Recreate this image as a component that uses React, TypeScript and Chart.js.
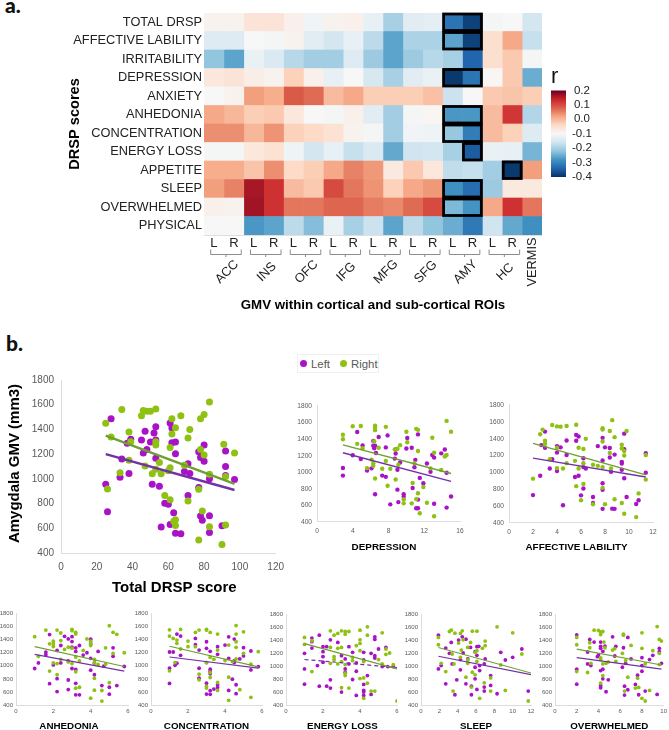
import React, { useEffect, useRef } from "react";
import { Chart, registerables } from "chart.js";

Chart.register(...registerables);
Chart.defaults.font.family = '"Liberation Sans", Arial, sans-serif';

// ---------- heat map data ----------
const rowLabels = ["TOTAL DRSP","AFFECTIVE LABILITY","IRRITABILITY","DEPRESSION","ANXIETY","ANHEDONIA","CONCENTRATION","ENERGY LOSS","APPETITE","SLEEP","OVERWHELMED","PHYSICAL"];
const regionGroups = ["ACC","INS","OFC","IFG","MFG","SFG","AMY","HC"];
const colLabels = ["L","R","L","R","L","R","L","R","L","R","L","R","L","R","L","R",""];
const rTotal = [-0.09,-0.09,-0.06,-0.06,-0.085,-0.11,-0.09,-0.085,-0.125,-0.2,-0.135,-0.13,-0.32,-0.38,-0.105,-0.1,-0.155];
const rAffective = [-0.14,-0.14,-0.1,-0.105,-0.09,-0.135,-0.155,-0.125,-0.18,-0.26,-0.195,-0.195,-0.26,-0.38,-0.05,0.015,-0.17];
const rIrritability = [-0.22,-0.26,-0.12,-0.145,-0.185,-0.205,-0.205,-0.14,-0.21,-0.26,-0.21,-0.185,-0.2,-0.34,-0.05,-0.02,-0.105];
const rDepression = [-0.065,-0.06,-0.08,-0.09,-0.03,-0.085,-0.125,-0.1,-0.15,-0.2,-0.135,-0.12,-0.39,-0.32,-0.095,-0.02,-0.25];
const rAnxiety = [-0.1,-0.09,0.025,0.01,0.085,0.07,-0.005,0.015,-0.025,-0.025,-0.025,-0.01,-0.165,-0.1,-0.02,-0.015,-0.025];
const rAnhedonia = [0.015,0,-0.025,-0.02,-0.065,-0.1,-0.105,-0.085,-0.135,-0.205,-0.105,-0.095,-0.275,-0.275,-0.005,0.12,-0.19];
const rConcentration = [0.04,0.04,0,0.035,-0.03,-0.04,-0.055,-0.09,-0.105,-0.205,-0.11,-0.115,-0.215,-0.31,-0.005,-0.03,-0.14];
const rEnergy = [-0.105,-0.105,-0.065,-0.055,-0.115,-0.155,-0.125,-0.17,-0.145,-0.255,-0.16,-0.155,-0.2,-0.35,-0.12,-0.125,-0.24];
const rAppetite = [0.01,0.01,-0.015,0.04,-0.04,-0.025,0.015,0.05,0.03,-0.07,-0.02,-0.065,-0.175,-0.17,-0.205,-0.39,0.025];
const rSleep = [0.025,0.05,0.16,0.125,-0.005,-0.02,0.1,0.06,0.035,-0.03,0.015,0.03,-0.285,-0.33,-0.21,-0.07,-0.07];
const rOverwhelmed = [-0.085,-0.09,0.165,0.125,0.06,0.06,0.075,0.075,0.055,0.045,0.07,0.1,-0.235,-0.28,0.015,0.125,0.06];
const rPhysical = [-0.1,-0.1,-0.275,-0.26,-0.18,-0.23,-0.12,-0.2,-0.165,-0.26,-0.18,-0.22,-0.25,-0.315,-0.16,-0.255,-0.285];
const heatRows = [rTotal,rAffective,rIrritability,rDepression,rAnxiety,rAnhedonia,rConcentration,rEnergy,rAppetite,rSleep,rOverwhelmed,rPhysical];
const significantBoxes = [[0,12,13],[1,12,13],[3,12,13],[5,12,13],[6,12,13],[7,13,13],[8,15,15],[9,12,13],[10,12,13]];
const colorbarTicks = [0.2,0.1,0,-0.1,-0.2,-0.3,-0.4];
const rdbuStops = ["#053061","#2166ac","#4393c3","#92c5de","#d1e5f0","#f7f7f7","#fddbc7","#f4a582","#dc5f4b","#c9222a","#67001f"];

// ---------- scatter data: [score, GMV] ----------
const totalLeft = [[25,957],[26,733],[28,1487],[34,1160],[33,1012],[38,1043],[37,1288],[39,1320],[45,1314],[46,1209],[47,1385],[48,1238],[50,1298],[51,957],[55,940],[52,1372],[53,1422],[53,1314],[53,1167],[58,802],[60,794],[61,1453],[62,1411],[62,1293],[64,1298],[64,1204],[63,726],[61,631],[56,610],[64,560],[67,555],[69,1059],[71,1122],[72,1043],[71,865],[77,1220],[78,1172],[80,1143],[80,1275],[77,930],[78,700],[79,665],[83,702],[83,565],[83,1000],[90,620],[92,1028],[92,1100],[92,1225],[97,994]];
const totalRight = [[25,1451],[26,917],[28,1338],[34,1561],[33,1049],[38,1380],[38,1151],[39,1300],[45,1511],[46,1553],[47,1104],[48,1548],[50,1548],[51,1041],[53,1566],[53,1300],[53,1275],[53,1078],[55,1133],[56,1041],[58,865],[60,1065],[61,1090],[61,830],[61,1254],[62,1487],[62,1364],[64,1414],[63,657],[64,670],[64,623],[67,1511],[69,1110],[71,1330],[72,1400],[71,820],[77,505],[77,915],[78,1238],[78,1487],[80,1521],[80,1193],[79,740],[83,1621],[83,1038],[83,612],[90,468],[92,626],[91,1280],[92,1020],[97,1209]];
const totalLeftFit = [[25,1200],[97,910]];
const totalRightFit = [[25,1350],[97,960]];

const depressionLeft = [[2.9,1051],[2.9,960],[4,1205],[4.5,1485],[4.9,1160],[5.1,1323],[5.6,1020],[6.1,1047],[6.3,1378],[6.3,1320],[6.5,1320],[6.4,1290],[6.6,1232],[6.5,735],[6.9,1425],[7.3,960],[7.7,945],[7.7,1300],[7.9,1445],[8.2,613],[8.8,1275],[8.8,1225],[8.7,1165],[9,1030],[9,790],[9.1,640],[9.3,1118],[9.7,735],[9.7,705],[10,1287],[10.1,1413],[10.6,1295],[10.7,810],[10.9,1060],[11,1150],[11.1,565],[11.3,565],[11.3,1457],[11.3,670],[11.5,932],[11.9,868],[12.3,1106],[12.7,1007],[12.9,1208],[13.1,1177],[13.1,620],[13.9,1228],[14.3,1275],[14.5,574],[14.5,995],[15,707]];
const depressionRight = [[2.9,1453],[2.9,1398],[4,1555],[4.5,1343],[4.9,1558],[5.1,1290],[5.6,1050],[6.1,1153],[6.3,1110],[6.3,1078],[6.4,1374],[6.5,1563],[6.5,1540],[6.5,1508],[6.5,925],[6.9,1295],[7.3,1043],[7.7,1548],[7.7,1137],[7.9,838],[8.2,1043],[8.7,1275],[8.8,912],[9,1283],[9.1,1090],[9.3,1327],[9.7,672],[9.7,625],[10,1488],[10.1,1362],[10.6,625],[10.7,870],[10.9,1110],[11.1,1524],[11.1,676],[11.3,1512],[11.3,747],[11.3,1256],[11.5,505],[11.9,822],[12.3,633],[12.7,1047],[12.9,1417],[13.1,1236],[13.1,470],[13.9,1027],[14.3,1190],[14.5,1620],[14.5,1208],[15,1488]];
const depressionLeftFit = [[2.9,1235],[15,890]];
const depressionRightFit = [[2.9,1330],[15,985]];

const affectiveLeft = [[2,731],[2.6,960],[2.7,1324],[3,1293],[3,1484],[3.4,1047],[3.6,1156],[4,1312],[4,1235],[4,1016],[4.3,1297],[4.5,610],[4.8,1379],[4.8,1207],[5.5,946],[5.6,1445],[5.6,1375],[5.8,1426],[5.8,960],[6,728],[6.2,810],[6.2,1168],[6.2,1063],[6.4,1047],[7,708],[7,638],[7.4,1312],[7.8,1410],[7.8,1141],[7.8,872],[7.8,794],[7.8,568],[8,1297],[8.4,1289],[8.4,1176],[8.5,1008],[8.6,570],[8.8,568],[8.8,1211],[9.4,1125],[9.4,1106],[9.4,1032],[9.6,1274],[9.6,1460],[9.6,930],[9.8,708],[10.6,626],[10.8,669],[11.4,1227],[11.4,997]];
const affectiveRight = [[2,926],[2.6,1453],[2.8,1508],[3,1375],[3,1340],[3.4,1156],[3.6,1562],[4,1546],[4,1293],[4,1051],[4.3,1543],[4.5,1047],[4.8,1550],[4.8,1110],[5.5,1137],[5.6,1566],[5.6,837],[5.8,1293],[5.8,1047],[6,669],[6.2,1277],[6.2,1110],[6.2,864],[6.4,1398],[7,1090],[7,622],[7.4,1078],[7.8,1523],[7.8,1508],[7.8,1367],[7.8,1063],[7.8,817],[8,622],[8.4,1492],[8.4,1231],[8.5,1047],[8.6,1620],[8.8,1418],[8.8,681],[9.4,1328],[9.4,1285],[9.4,638],[9.6,1254],[9.6,1200],[9.6,509],[9.8,1492],[10.6,470],[10.8,751],[11.4,1207],[11.4,915]];
const affectiveLeftFit = [[2,1170],[11.4,945]];
const affectiveRightFit = [[2,1345],[11.4,970]];

const anhedoniaLeft = [[1,959],[1.2,1045],[1.6,1211],[1.6,1170],[1.8,1478],[1.8,727],[2,1014],[2.2,1236],[2.2,803],[2.2,606],[2.4,1311],[2.4,1045],[2.6,1452],[2.8,1412],[2.8,783],[2.8,637],[2.8,1075],[3,1447],[3,1372],[3,1286],[3,959],[3.2,1276],[3.2,1221],[3.2,944],[3.2,732],[3.2,556],[3.4,1311],[3.4,556],[3.6,1165],[3.8,1200],[4,1407],[4,1337],[4,1115],[4,934],[4.2,863],[4.2,1045],[4.4,1221],[4.6,697],[4.7,994],[5,672],[5,566],[5.2,1276],[5.2,1145],[5.4,697],[5.8,990]];
const anhedoniaRight = [[1,1447],[1.2,1145],[1.6,1548],[1.8,1337],[1.8,919],[2,1377],[2,1337],[2,1296],[2,1045],[2.2,1548],[2.2,1034],[2.2,863],[2.4,1503],[2.4,1387],[2.4,1100],[2.6,1251],[2.8,1286],[2.8,1060],[3,1558],[3,1538],[3,1271],[3,1034],[3.2,1513],[3.2,1488],[3.2,1135],[3.2,909],[3.2,657],[3.4,1075],[3.4,672],[3.6,1236],[3.8,1412],[4,1377],[4,1337],[4,1311],[4.2,1100],[4.2,1045],[4.2,808],[4.2,627],[4.4,1020],[4.6,460],[4.6,622],[4.8,1276],[4.8,1025],[5,1614],[5,742],[5.2,1513],[5.2,1190],[5.4,1483],[4,505],[5.8,1200]];
const anhedoniaLeftFit = [[1,1175],[5.8,920]];
const anhedoniaRightFit = [[1,1295],[5.8,990]];

const concentrationLeft = [[1,730],[1,963],[1,1212],[1.2,1212],[1.4,1486],[1.4,1040],[1.3,1009],[1.6,1455],[1.6,1161],[2.4,1420],[2.4,1323],[2.6,1242],[2.6,963],[2.6,811],[3,1369],[3,1268],[3,1050],[3,735],[3,568],[3.2,1222],[3.2,948],[3.2,913],[3.2,877],[3.2,619],[3.2,563],[3.4,644],[3.6,1293],[3.6,1176],[3.6,710],[3.6,669],[4,1318],[4.2,1445],[4.2,1115],[4.2,624],[4.4,796],[4.5,1050],[4.5,1410],[4.5,1075],[4.6,710],[4.6,573],[4.8,1105],[5,1151],[5,1278],[5.4,1227],[5.4,938],[5.8,989]];
const concentrationRight = [[1,1552],[1,1455],[1,923],[1.2,1420],[1.4,1394],[1.4,1344],[1.3,1050],[1.6,1557],[1.6,1258],[2,1379],[2,1293],[2.4,1511],[2.4,1293],[2.6,1547],[2.6,872],[2.6,786],[3,1557],[3,1547],[3,1050],[3,685],[3,659],[3.2,1511],[3.2,1131],[3.2,898],[3.2,821],[3.4,1100],[3.6,1486],[3.6,1242],[3.6,745],[3.6,624],[4,1080],[4.2,1318],[4.2,826],[4.2,472],[4.4,1065],[4.6,1617],[4.6,1486],[4.6,1369],[4.6,1283],[4.6,1105],[4.8,634],[5,1521],[5,1191],[5.4,1024],[5.4,517],[5.8,1217]];
const concentrationLeftFit = [[1,1135],[5.8,965]];
const concentrationRightFit = [[1,1300],[5.8,985]];

const energyLeft = [[1,723],[1,959],[1,1200],[1.4,1436],[1.4,1380],[1.4,1282],[1.7,1010],[1.8,1482],[1.8,692],[2,1303],[2,1226],[2,1149],[2,1062],[2.2,1303],[2.2,692],[2.4,1410],[2.4,790],[2.4,662],[2.8,1369],[3,1164],[3,600],[3.2,1113],[3.2,959],[3.2,908],[3.4,1303],[3.4,1036],[3.6,1215],[3.6,795],[3.8,1051],[3.8,923],[3.8,549],[4.2,1215],[4.2,1097],[4.2,718],[4.2,626],[4.2,600],[4.2,549],[4.4,856],[4.6,564],[4.6,1200],[4.8,1456],[4.8,1415],[4.8,1164],[4.8,1128],[5,1267],[5.4,1292],[5.2,995],[5.5,995],[5.8,995]];
const energyRight = [[1,1446],[1,1338],[1.4,1395],[1.4,918],[2.4,1549],[2.4,1292],[2.4,1046],[2.6,1482],[2.6,1149],[2.6,1103],[2.8,1508],[2.8,1277],[2.8,1036],[3,1549],[3,1292],[3,1072],[3,667],[3.2,1538],[3.2,1497],[3.2,1026],[3.2,892],[3.2,856],[3.4,1538],[3.4,662],[3.6,1138],[3.6,1087],[3.8,1318],[4,1559],[4,1410],[4,1354],[4,1241],[4,810],[4.2,1072],[4.2,820],[4.2,503],[4.4,1610],[4.4,1482],[4.4,738],[4.6,615],[4.8,615],[5,1103],[5.2,1518],[5.2,1036],[5.4,1267],[5.4,1185],[5.6,1205],[5.8,1026],[6,462]];
const energyLeftFit = [[1,1105],[6,980]];
const energyRightFit = [[1,1350],[6,960]];

const sleepLeft = [[1.9,1482],[1.9,959],[2.2,1010],[2.7,1282],[2.7,728],[3.1,1200],[3.3,1369],[3.4,1036],[3.7,559],[3.9,790],[4.1,1405],[4.3,944],[4.3,1103],[4.5,1456],[4.6,1205],[4.9,728],[4.9,1420],[5.1,1113],[5.4,1292],[5.5,559],[5.5,692],[5.9,1226],[5.9,985],[5.9,805],[6.1,641],[6.1,1303],[6.1,1169],[6.3,1308],[6.4,1010],[6.4,933],[6.9,1036],[6.9,677],[6.9,615],[7,1113],[7.6,856],[7.6,703],[8.3,574],[8.7,1215],[9.2,1097],[10,1138],[11,1267],[11.7,615]];
const sleepRight = [[1.9,1446],[1.9,1333],[2.2,1046],[2.7,918],[3.1,1538],[3.3,1559],[3.4,1190],[3.5,615],[3.6,1036],[3.7,1513],[4.1,1359],[4.3,1508],[4.3,1138],[4.4,1251],[4.5,1549],[4.6,1410],[4.9,831],[5.1,1097],[5.1,1046],[5.1,1292],[5.4,1369],[5.5,677],[5.6,1544],[5.6,908],[5.9,867],[5.9,1215],[6.1,1077],[6.1,1544],[6.1,1241],[6.4,503],[6.7,1277],[6.9,744],[7,1390],[7,1318],[7.6,820],[7.6,615],[8.3,1610],[8.7,1021],[9.2,626],[10,1518],[11,1190],[11.7,462]];
const sleepLeftFit = [[1.9,1155],[12,870]];
const sleepRightFit = [[1.9,1290],[12,895]];

const overwhelmedLeft = [[2,1487],[2,954],[2,723],[3,1221],[3,1036],[3.2,1415],[3.3,1010],[3.6,1374],[4,1174],[3.9,1149],[4.2,1374],[4.2,1308],[4.2,1277],[4.2,933],[4.2,703],[4.2,667],[4.4,954],[4.4,805],[4.4,1231],[4.6,1313],[4.7,605],[4.9,790],[5.3,1456],[5.5,1159],[5.6,1308],[6.2,985],[6.3,1287],[6.4,692],[6.4,554],[6.5,1046],[6.7,1446],[6.7,636],[7,1113],[7.4,718],[7.6,861],[7.7,559],[8,1133],[8,1010],[8,923],[8.3,615],[8.7,1103],[9,1169],[9.4,564],[9.6,1277],[9.6,1226],[9.8,1046]];
const overwhelmedRight = [[2,1446],[2,1333],[2,918],[3,903],[3.2,1364],[3.2,1287],[3.3,1046],[3.6,1559],[4,1554],[4.2,1533],[4.2,1492],[4.4,1538],[4.2,1128],[4.2,1103],[4.2,738],[4.4,856],[4.4,1036],[4.5,1374],[4.6,1287],[4.7,1046],[4.9,1067],[5.3,1251],[5.5,1272],[5.6,1077],[6.2,1200],[6.3,1497],[6.3,1482],[6.4,615],[6.5,1087],[6.7,831],[7,1323],[7.4,662],[7.6,815],[7.7,672],[8,1518],[8,1277],[8,503],[8.3,462],[8.3,1036],[8.7,626],[9,1241],[9.4,1615],[9.6,1415],[9.6,1200],[9.6,1026],[9.8,1390]];
const overwhelmedLeftFit = [[2,1135],[9.8,955]];
const overwhelmedRightFit = [[2,1265],[9.8,1020]];

// ---------- styling ----------
const PURPLE = "#a912c6";
const GREEN = "#8fc113";
const PURPLE_LINE = "#7232a6";
const GREEN_LINE = "#6f9f31";
const AXIS = "#dcdcdc";
const TICK = "#595959";

function rColor(v: number): string {
  const t = Math.max(0, Math.min(1, (v + 0.4) / 0.6)) * (rdbuStops.length - 1);
  const i = Math.min(rdbuStops.length - 2, Math.floor(t));
  const f = t - i;
  const p = (h: string, k: number) => parseInt(h.slice(k, k + 2), 16);
  const a = rdbuStops[i], b = rdbuStops[i + 1];
  const c = [1, 3, 5].map((k) => Math.round(p(a, k) + (p(b, k) - p(a, k)) * f));
  return `rgb(${c[0]},${c[1]},${c[2]})`;
}

const toXY = (pairs: number[][]) => pairs.map(([x, y]) => ({ x, y }));

type Panel = {
  left: number; top: number; yW: number; plotW: number; plotH: number; xH: number; padR: number; padT: number;
  xMax: number; xStep: number; xTitle: string; yTitle?: string; titleSize: number; tickSize: number;
  xPad: number; yPad: number; r: number; lw: number; titleDx: number; titleDy?: number;
  L: number[][]; R: number[][]; LF: number[][]; RF: number[][]; dashL?: boolean;
};

const small = { yW: 0, plotH: 92, xH: 27, padR: 8, padT: 6, titleSize: 9.8, tickSize: 6, xPad: 3, yPad: 3, r: 1.9, lw: 1.2, titleDx: 0 };
const panels: Panel[] = [
  { left: 4, top: 367, yW: 57, plotW: 217, plotH: 178, xH: 44, padR: 14, padT: 8, xMax: 120, xStep: 20, xTitle: "Total DRSP score", yTitle: "Amygdala GMV (mm3)", titleSize: 15, tickSize: 10, xPad: 8, yPad: 7, r: 3.5, lw: 2.4, titleDx: 6, titleDy: -3, L: totalLeft, R: totalRight, LF: totalLeftFit, RF: totalRightFit },
  { left: 293, top: 397, yW: 24, plotW: 143, plotH: 118, xH: 31, padR: 10, padT: 7, xMax: 16, xStep: 4, xTitle: "DEPRESSION", titleSize: 9.9, tickSize: 6.6, xPad: 5, yPad: 5, r: 2.2, lw: 1.4, titleDx: -4.5, L: depressionLeft, R: depressionRight, LF: depressionLeftFit, RF: depressionRightFit },
  { left: 485, top: 396, yW: 24, plotW: 144, plotH: 120, xH: 30, padR: 10, padT: 7, xMax: 12, xStep: 2, xTitle: "AFFECTIVE LABILITY", titleSize: 9.9, tickSize: 6.6, xPad: 5, yPad: 5, r: 2.2, lw: 1.4, titleDx: -4.5, L: affectiveLeft, R: affectiveRight, LF: affectiveLeftFit, RF: affectiveRightFit },
  { ...small, left: 0, top: 607, yW: 16, plotW: 112, titleDx: -3, xMax: 6, xStep: 2, xTitle: "ANHEDONIA", L: anhedoniaLeft, R: anhedoniaRight, LF: anhedoniaLeftFit, RF: anhedoniaRightFit },
  { ...small, left: 133, top: 607, yW: 18, plotW: 111, xMax: 6, xStep: 2, xTitle: "CONCENTRATION", L: concentrationLeft, R: concentrationRight, LF: concentrationLeftFit, RF: concentrationRightFit },
  { ...small, left: 268, top: 608, yW: 18, plotW: 111, plotH: 91, titleDx: 1, xMax: 6, xStep: 2, xTitle: "ENERGY LOSS", L: energyLeft, R: energyRight, LF: energyLeftFit, RF: energyRightFit, dashL: true },
  { ...small, left: 403, top: 608, yW: 18, plotW: 110, plotH: 91, xMax: 12, xStep: 2, xTitle: "SLEEP", L: sleepLeft, R: sleepRight, LF: sleepLeftFit, RF: sleepRightFit },
  { ...small, left: 537, top: 608, yW: 18, plotW: 111, plotH: 91, padR: 4, xMax: 10, xStep: 2, xTitle: "OVERWHELMED", L: overwhelmedLeft, R: overwhelmedRight, LF: overwhelmedLeftFit, RF: overwhelmedRightFit },
];

// moves a scale's title by a few pixels without changing the scale itself
function shiftTitle(scale: any, dx: number, dy: number) {
  if (scale.__shifted) return;
  scale.__shifted = true;
  const draw = scale.drawTitle;
  scale.drawTitle = function () {
    const ctx = this.ctx;
    ctx.save();
    ctx.translate(dx, dy);
    draw.call(this);
    ctx.restore();
  };
}

function makeScatter(canvas: HTMLCanvasElement, p: Panel) {
  return new Chart(canvas, {
    type: "scatter",
    data: {
      datasets: [
        { label: "Right fit", data: toXY(p.RF), showLine: true, borderColor: GREEN_LINE, borderWidth: p.lw, pointRadius: 0, order: 0 },
        { label: "Left fit", data: toXY(p.LF), showLine: true, borderColor: PURPLE_LINE, borderWidth: p.lw, borderDash: p.dashL ? [4, 3] : undefined, pointRadius: 0, order: 0 },
        { label: "Right", data: toXY(p.R), backgroundColor: GREEN, borderWidth: 0, pointRadius: p.r, order: 1 },
        { label: "Left", data: toXY(p.L), backgroundColor: PURPLE, borderWidth: 0, pointRadius: p.r, order: 2 },
      ],
    },
    options: {
      responsive: false,
      animation: false,
      layout: { padding: { top: p.padT, right: p.padR, left: 0, bottom: 0 } },
      plugins: { legend: { display: false }, tooltip: { enabled: false } },
      scales: {
        x: {
          type: "linear", min: 0, max: p.xMax,
          grid: { display: false, drawTicks: false },
          border: { color: AXIS },
          ticks: { stepSize: p.xStep, color: TICK, font: { size: p.tickSize }, padding: p.xPad, maxRotation: 0, autoSkip: false, callback: (v: any) => String(v) },
          title: { display: true, text: p.xTitle, color: "#000", font: { size: p.titleSize, weight: "bold" }, padding: { top: 0, bottom: 0 } },
          afterFit: (s: any) => { s.height = p.xH; },
          afterUpdate: (s: any) => shiftTitle(s, p.titleDx, 0),
        },
        y: {
          type: "linear", min: 400, max: 1800,
          grid: { display: false, drawTicks: false },
          border: { color: AXIS },
          ticks: { stepSize: 200, color: TICK, font: { size: p.tickSize }, padding: p.yPad, autoSkip: false, callback: (v: any) => String(v) },
          title: { display: !!p.yTitle, text: p.yTitle || "", color: "#000", font: { size: p.titleSize, weight: "bold" }, padding: { top: 0, bottom: 0 } },
          afterFit: (s: any) => { s.width = p.yW; },
          afterUpdate: (s: any) => shiftTitle(s, 2, p.titleDy || 0),
        },
      },
    } as any,
  });
}

const heatExtras = {
  id: "heatExtras",
  afterDatasetsDraw(chart: any) {
    const { ctx, scales } = chart;
    const xs = scales.x, ys = scales.y;
    const band = Math.abs(ys.getPixelForValue(1) - ys.getPixelForValue(0)) / 2;
    ctx.save();
    ctx.strokeStyle = "#000";
    ctx.lineWidth = 2.8;
    significantBoxes.forEach(([row, c0, c1]) => {
      const x0 = xs.getPixelForValue(c0), x1 = xs.getPixelForValue(c1 + 1);
      const y0 = ys.getPixelForValue(row) - band, y1 = ys.getPixelForValue(row) + band;
      ctx.strokeRect(x0 + 1, y0 + 1, x1 - x0 - 2, y1 - y0 - 2);
    });
    const bottom = chart.chartArea.bottom;
    ctx.strokeStyle = "#8c8c8c";
    ctx.lineWidth = 1;
    ctx.fillStyle = "#222";
    ctx.font = '12.8px "Liberation Sans"';
    ctx.textAlign = "center";
    ctx.textBaseline = "middle";
    regionGroups.forEach((name, k) => {
      const a = xs.getPixelForValue(2 * k) + 6.7, b = xs.getPixelForValue(2 * k + 2) - 2.5;
      const m = (a + b) / 2;
      ctx.beginPath();
      ctx.moveTo(a, bottom + 14.5); ctx.lineTo(a, bottom + 19.5); ctx.lineTo(b, bottom + 19.5); ctx.lineTo(b, bottom + 14.5);
      ctx.moveTo(m, bottom + 19.5); ctx.lineTo(m, bottom + 22);
      ctx.stroke();
      ctx.save();
      ctx.translate(m + 1, bottom + 37);
      ctx.rotate(-Math.PI / 4);
      ctx.fillText(name, 0, 0);
      ctx.restore();
    });
    ctx.save();
    ctx.translate(xs.getPixelForValue(16.5), bottom + 27);
    ctx.rotate(-Math.PI / 2);
    ctx.fillText("VERMIS", 0, 0);
    ctx.restore();
    ctx.restore();
  },
};

function makeHeat(canvas: HTMLCanvasElement) {
  const datasets = colLabels.map((_, c) => ({
    label: `col ${c}`,
    data: rowLabels.map(() => 1),
    backgroundColor: heatRows.map((row) => rColor(row[c])),
    borderWidth: 0,
    barPercentage: 1,
    categoryPercentage: 1,
    stack: "heat",
  }));
  return new Chart(canvas, {
    type: "bar",
    data: { labels: rowLabels, datasets },
    options: {
      indexAxis: "y",
      responsive: false,
      animation: false,
      layout: { padding: { top: 13, left: 66, right: 0, bottom: 0 } },
      plugins: { legend: { display: false }, tooltip: { enabled: false } },
      scales: {
        x: {
          type: "linear", min: 0, max: 17, stacked: true,
          grid: { display: false, drawTicks: false },
          border: { color: "#dedede" },
          afterBuildTicks: (s: any) => { s.ticks = colLabels.map((_, i) => ({ value: i + 0.5 })); },
          ticks: { autoSkip: false, maxRotation: 0, padding: 1, color: "#222", font: { size: 13 }, callback: (_: any, i: number) => colLabels[i] },
          title: { display: true, text: "GMV within cortical and sub-cortical ROIs", color: "#000", font: { size: 13.3, weight: "bold" }, padding: { top: 0, bottom: 4 } },
          afterFit: (s: any) => { s.height = 82; },
        },
        y: {
          stacked: true,
          grid: { display: false, drawTicks: false },
          border: { color: "#dedede" },
          ticks: { autoSkip: false, padding: 2, color: "#222", font: { size: 12.8 } },
          title: { display: true, text: "DRSP scores", color: "#000", font: { size: 14.6, weight: "bold" }, padding: { top: 0, bottom: 0 } },
          afterFit: (s: any) => { s.width = 138; },
        },
      },
    } as any,
    plugins: [heatExtras],
  });
}

function makeColorbar(canvas: HTMLCanvasElement) {
  return new Chart(canvas, {
    type: "bar",
    data: {
      labels: ["r"],
      datasets: [{
        label: "r",
        data: [[-0.4, 0.2]],
        borderWidth: 0,
        borderSkipped: false,
        barPercentage: 1,
        categoryPercentage: 1,
        backgroundColor: (c: any) => {
          const a = c.chart.chartArea;
          if (!a) return "#fff";
          const g = c.chart.ctx.createLinearGradient(0, a.bottom, 0, a.top);
          rdbuStops.forEach((s, i) => g.addColorStop(i / (rdbuStops.length - 1), s));
          return g;
        },
      }],
    },
    options: {
      responsive: false,
      animation: false,
      layout: { padding: { top: 0, left: 0, right: 0, bottom: 6 } },
      plugins: {
        legend: { display: false },
        tooltip: { enabled: false },
        title: { display: true, text: "r", align: "start", color: "#111", font: { size: 22, weight: "normal" }, padding: { top: 2, bottom: 0 } },
      },
      scales: {
        x: { display: false },
        y: {
          type: "linear", position: "right", min: -0.4, max: 0.2,
          grid: { display: false, drawTicks: false },
          border: { display: false },
          afterBuildTicks: (s: any) => { s.ticks = colorbarTicks.map((value) => ({ value })); },
          ticks: { autoSkip: false, padding: 6, crossAlign: "center", color: "#222", font: { size: 11.5 }, callback: (v: any) => Number(v).toFixed(1) },
          afterFit: (s: any) => { s.width = 36; },
        },
      },
    } as any,
  });
}

function ChartCanvas({ make, left, top, width, height }: { make: (c: HTMLCanvasElement) => Chart; left: number; top: number; width: number; height: number }) {
  const ref = useRef<HTMLCanvasElement | null>(null);
  useEffect(() => {
    const chart = make(ref.current!);
    return () => chart.destroy();
  }, []);
  return <canvas ref={ref} width={width} height={height} style={{ position: "absolute", left, top, width, height }} />;
}

const letter: React.CSSProperties = { position: "absolute", fontFamily: "Lato, sans-serif", fontWeight: 900, fontSize: 21, color: "#111", lineHeight: "25px" };
const dot = (bg: string): React.CSSProperties => ({ width: 7, height: 7, borderRadius: "50%", background: bg, display: "inline-block", marginRight: 4 });

export default function App() {
  return (
    <div style={{ position: "absolute", left: 0, top: 0, width: 669, height: 730, overflow: "hidden", background: "#fff" }}>
      <div style={{ ...letter, left: 5, top: -8 }}>a.</div>
      <div style={{ ...letter, left: 6, top: 330 }}>b.</div>
      <ChartCanvas make={makeHeat} left={0} top={0} width={542} height={317} />
      <ChartCanvas make={makeColorbar} left={551} top={62} width={51} height={128} />
      <div style={{ position: "absolute", left: 297, top: 354, width: 78, height: 17, border: "1px solid #efefef", display: "flex", alignItems: "center", paddingLeft: 2, fontFamily: '"Liberation Sans"', fontSize: 11.4, color: "#595959", whiteSpace: "nowrap" }}>
        <span style={dot(PURPLE)} /><span style={{ marginRight: 10 }}>Left</span><span style={dot(GREEN)} /><span>Right</span>
      </div>
      {panels.map((p) => (
        <ChartCanvas key={p.xTitle} make={(c) => makeScatter(c, p)} left={p.left} top={p.top} width={p.yW + p.plotW + p.padR} height={p.padT + p.plotH + p.xH} />
      ))}
    </div>
  );
}
